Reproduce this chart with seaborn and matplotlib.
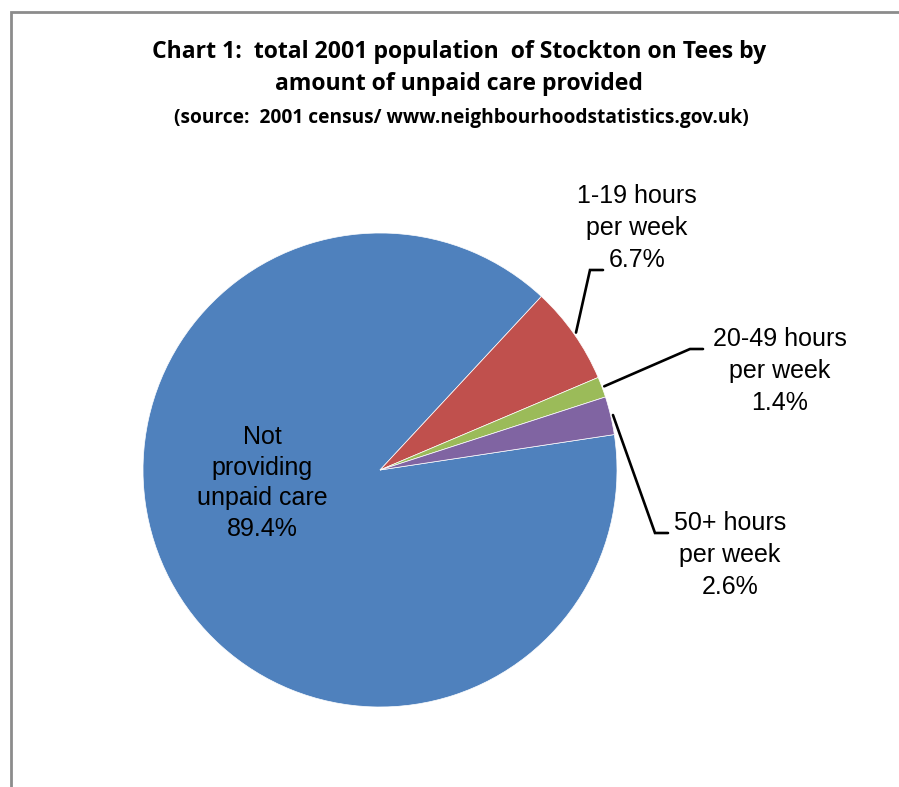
import numpy as np
import matplotlib
matplotlib.use('Agg')
import matplotlib.pyplot as plt
from matplotlib.patches import Rectangle
import seaborn as sns

# %% data (2001 census, Stockton on Tees)
categories = ['Not\nproviding\nunpaid care', '1-19 hours\nper week',
              '20-49 hours\nper week', '50+ hours\nper week']
shares = [89.4, 6.7, 1.4, 2.6]
colors = ['#4F81BD', '#C0504D', '#9BBB59', '#8064A2']

title1 = 'Chart 1:  total 2001 population  of Stockton on Tees by\namount of unpaid care provided'
title2 = '(source:  2001 census/ www.neighbourhoodstatistics.gov.uk)'

# %% plot
sns.set_theme(style='white')
plt.rcParams['font.family'] = ['Liberation Sans', 'DejaVu Sans']
plt.rcParams['text.color'] = 'black'

W, H = 899, 787
fig = plt.figure(figsize=(W / 100, H / 100), dpi=100)
ax = fig.add_axes([0, 0, 1, 1])

cx, cy, r = 380, H - 470, 237
start = 8.6
wedges, _ = ax.pie(shares, colors=colors, startangle=start, counterclock=False,
                   center=(cx, cy), radius=r, frame=True,
                   wedgeprops={'edgecolor': 'white', 'linewidth': 0.5})
ax.set_xlim(0, W)
ax.set_ylim(0, H)
ax.set_aspect('equal')
ax.axis('off')

# label for the big slice, inside
ax.text(262, H - 483, '%s\n%.1f%%' % (categories[0], shares[0]), ha='center', va='center',
        fontsize=18, linespacing=1.34, color='black')

# outside labels with leader lines
elbows = [(590, 270, 603), (690, 349, 703), (655, 533, 668)]
label_pos = [(637, 228), (780, 371), (730, 555)]
for i in range(1, 4):
    w = wedges[i]
    mid = np.deg2rad((w.theta1 + w.theta2) / 2)
    x0 = cx + 1.01 * r * np.cos(mid)
    y0 = cy + 1.01 * r * np.sin(mid)
    ex, ey, hx = elbows[i - 1]
    ax.plot([x0, ex, hx], [y0, H - ey, H - ey], color='black', lw=1.9,
            solid_joinstyle='miter')
    lx, ly = label_pos[i - 1]
    ax.text(lx, H - ly, '%s\n%.1f%%' % (categories[i], shares[i]), ha='center', va='center',
            fontsize=18, linespacing=1.42, color='black')

# titles
fig.text(459 / W, 1 - 68 / H, title1, ha='center', va='center', fontsize=16.6,
         fontweight='bold', family=['Open Sans', 'DejaVu Sans'], linespacing=1.5, color='black')
fig.text(461 / W, 1 - 118 / H, title2, ha='center', va='center', fontsize=13.8,
         fontweight='bold', family=['Open Sans', 'DejaVu Sans'], color='black')

# chart frame
fig.patches.append(Rectangle((11 / W, -0.1), 1.2, 1 - 12 / H + 0.1, transform=fig.transFigure,
                             fill=False, edgecolor='#8c8c8c', lw=2))

plt.savefig('out.png', dpi=100)
